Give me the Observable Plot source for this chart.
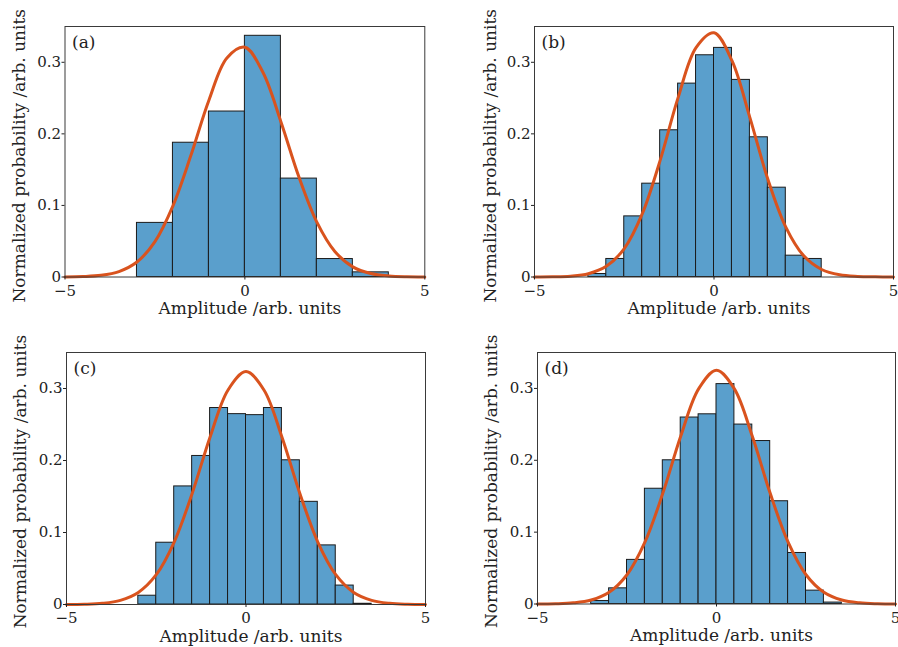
<!DOCTYPE html>
<html>
<head>
<meta charset="utf-8">
<script src="https://cdn.jsdelivr.net/npm/d3@7"></script>
<script src="https://cdn.jsdelivr.net/npm/@observablehq/plot@0.6"></script>
<style>
  body { margin: 0; background: #fff; }
  #fig { position: relative; width: 898px; height: 647px; overflow: hidden; background: #fff; }
  #fig > svg { position: absolute; }
</style>
</head>
<body>
<div id="fig"></div>
<script>
// Sample positions of the fitted Gaussian curves
const curveX = [-5, -4.5, -4, -3.5, -3, -2.5, -2, -1.5, -1, -0.5, 0, 0.5, 1, 1.5, 2, 2.5, 3, 3.5, 4, 4.5, 5];

// (a) histogram: bin edges and normalized probabilities
const aEdges = [-3, -2, -1, 0, 1, 2, 3, 4];
const aHeights = [0.0756, 0.1876, 0.2312, 0.337, 0.1375, 0.0251, 0.0065];
const aCurve = [0.0001, 0.0006, 0.0023, 0.0076, 0.0209, 0.0495, 0.0995, 0.170, 0.247, 0.306, 0.321, 0.286, 0.217, 0.140, 0.0767, 0.0357, 0.0141, 0.0048, 0.0014, 0.0003, 0.0001];

// (b)
const bEdges = [-3.5, -3, -2.5, -2, -1.5, -1, -0.5, 0, 0.5, 1, 1.5, 2, 2.5, 3];
const bHeights = [0.0042, 0.0252, 0.0847, 0.1304, 0.205, 0.2702, 0.3098, 0.3201, 0.2754, 0.1952, 0.1248, 0.0298, 0.0252];
const bCurve = [0.0001, 0.0003, 0.0012, 0.0046, 0.0149, 0.0397, 0.0881, 0.163, 0.2506, 0.3205, 0.3412, 0.3022, 0.2227, 0.1366, 0.0697, 0.0296, 0.0105, 0.0031, 0.0008, 0.0002, 0.0000];

// (c)
const cEdges = [-3, -2.5, -2, -1.5, -1, -0.5, 0, 0.5, 1, 1.5, 2, 2.5, 3, 3.5];
const cHeights = [0.0122, 0.0858, 0.164, 0.2063, 0.2729, 0.2644, 0.263, 0.2729, 0.2003, 0.1426, 0.0821, 0.0263, 0.001];
const cCurve = [0.0001, 0.0004, 0.0017, 0.0058, 0.0168, 0.0414, 0.0868, 0.1543, 0.2328, 0.298, 0.3235, 0.298, 0.2328, 0.1543, 0.0868, 0.0414, 0.0168, 0.0058, 0.0017, 0.0004, 0.0001];

// (d)
const dEdges = [-3.5, -3, -2.5, -2, -1.5, -1, -0.5, 0, 0.5, 1, 1.5, 2, 2.5, 3, 3.5];
const dHeights = [0.0042, 0.0218, 0.0614, 0.1604, 0.2, 0.2595, 0.264, 0.306, 0.2497, 0.2268, 0.143, 0.071, 0.0186, 0.002];
const dCurve = [0.0001, 0.0004, 0.0016, 0.0055, 0.0163, 0.0407, 0.0860, 0.1540, 0.2334, 0.2994, 0.3254, 0.2994, 0.2334, 0.1540, 0.0860, 0.0407, 0.0163, 0.0055, 0.0016, 0.0004, 0.0001];

// Axis ticks and labels
const xTicks = [-5, 0, 5];
const yTicks = [0, 0.1, 0.2, 0.3];
const xLabel = "Amplitude /arb. units";
const yLabel = "Normalized probability /arb. units";

const FONT = "'DejaVu Serif', serif";
const BAR_FILL = "#5a9fcc";
const FIT_COLOR = "#d9531e";

const panels = [
  { tag: "(a)", edges: aEdges, heights: aHeights, curve: aCurve,
    left: 0, top: 0, width: 449, height: 323,
    m: { top: 26, right: 24.7, bottom: 46.5, left: 64.5 }, yLabelDx: -45, yLabelDy: 4 },
  { tag: "(b)", edges: bEdges, heights: bHeights, curve: bCurve,
    left: 449, top: 0, width: 449, height: 323,
    m: { top: 26, right: 5, bottom: 46.5, left: 85 }, yLabelDx: -44, yLabelDy: 4 },
  { tag: "(c)", edges: cEdges, heights: cHeights, curve: cCurve,
    left: 0, top: 323, width: 449, height: 324,
    m: { top: 29, right: 24, bottom: 43, left: 66 }, yLabelDx: -46, yLabelDy: 3 },
  { tag: "(d)", edges: dEdges, heights: dHeights, curve: dCurve,
    left: 449, top: 323, width: 449, height: 324,
    m: { top: 29, right: 3, bottom: 43.5, left: 88 }, yLabelDx: -46, yLabelDy: 3 }
];

const fig = document.getElementById("fig");

for (const p of panels) {
  const bars = p.heights.map((h, i) => ({ x1: p.edges[i], x2: p.edges[i + 1], y: h }));
  const fit = curveX.map((x, i) => ({ x, y: p.curve[i] }));

  const chart = Plot.plot({
    width: p.width,
    height: p.height,
    marginTop: p.m.top,
    marginRight: p.m.right,
    marginBottom: p.m.bottom,
    marginLeft: p.m.left,
    style: { fontFamily: FONT, fontSize: "15px", color: "#222", background: "transparent", overflow: "visible" },
    x: { domain: [-5, 5] },
    y: { domain: [0, 0.35] },
    marks: [
      Plot.rectY(bars, { x1: "x1", x2: "x2", y: "y", fill: BAR_FILL, stroke: "#1b1b1b", strokeWidth: 1 }),
      Plot.line(fit, { x: "x", y: "y", stroke: FIT_COLOR, strokeWidth: 3, curve: "catmull-rom" }),
      Plot.frame({ stroke: "#3a3a3a", strokeWidth: 1 }),
      Plot.axisX({ ticks: xTicks, tickSize: 3, tickPadding: 5, label: null, fontSize: 15,
        tickFormat: d => d < 0 ? "\u2212" + Math.abs(d) : String(d) }),
      Plot.axisY({ ticks: yTicks, tickSize: 3, tickPadding: 1, label: null, fontSize: 15,
        tickFormat: d => d === 0 ? "0" : d.toFixed(1) }),
      Plot.text([xLabel], { frameAnchor: "bottom", textAnchor: "middle", dx: 5, dy: 37, fontSize: 17, fill: "#222" }),
      Plot.text([yLabel], { frameAnchor: "left", textAnchor: "middle", dx: p.yLabelDx, dy: p.yLabelDy,
        rotate: -90, fontSize: 17, fill: "#222" }),
      Plot.text([p.tag], { frameAnchor: "top-left", dx: 7, dy: 9, fontSize: 17, fill: "#222" })
    ]
  });
  chart.style.left = p.left + "px";
  chart.style.top = p.top + "px";
  fig.appendChild(chart);
}
</script>
</body>
</html>
